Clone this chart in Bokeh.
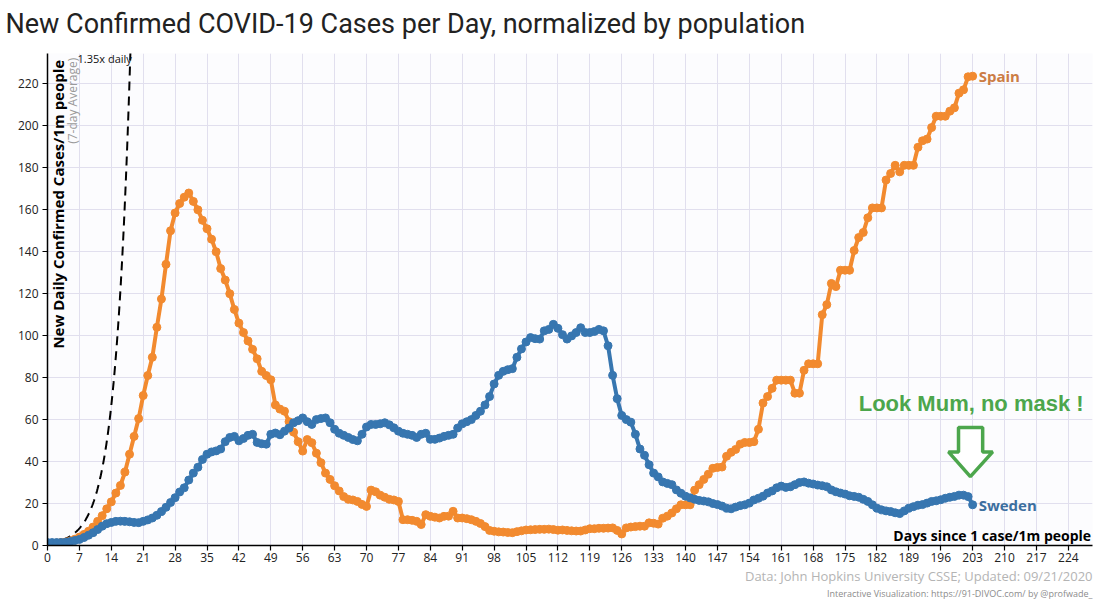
import numpy as np
from math import pi
from bokeh.plotting import figure
from bokeh.models import Label, FixedTicker, PolyAnnotation, Range1d, ColumnDataSource, Title
from bokeh.embed import file_html
from bokeh.resources import INLINE

title_text = "New Confirmed COVID-19 Cases per Day, normalized by population"
y_title = "New Daily Confirmed Cases/1m people"
y_subtitle = "(7-day Average)"
x_title = "Days since 1 case/1m people"
source_text = "Data: John Hopkins University CSSE; Updated: 09/21/2020"
credit_text = "Interactive Visualization: https://91-DIVOC.com/ by @profwade_"
note_text = "Look Mum, no mask !"
guide_text = "1.35x daily"

days = list(range(204))

spain = [
    1.0, 1.1, 1.2, 1.4, 1.7, 2.2, 3.0, 4.0, 5.3, 6.8,
    8.8, 11.5, 14.2, 17.5, 20.8, 25.0, 28.6, 35.0, 43.5, 52.0,
    60.5, 71.5, 81.0, 89.7, 104.0, 117.5, 134.0, 150.0, 158.5, 163.0,
    166.0, 168.0, 164.0, 160.0, 155.0, 151.0, 146.0, 140.0, 132.0, 126.5,
    120.0, 112.5, 106.0, 101.5, 97.5, 93.5, 89.0, 83.0, 81.0, 79.0,
    67.0, 65.0, 64.0, 59.0, 54.0, 49.5, 45.0, 50.5, 49.0, 44.0,
    39.5, 34.5, 31.5, 28.5, 26.0, 23.3, 22.0, 21.7, 21.0, 19.6,
    18.6, 26.4, 25.6, 24.0, 23.0, 22.0, 21.7, 21.0, 12.3, 12.3,
    12.0, 11.5, 10.0, 14.7, 13.9, 13.5, 13.1, 13.9, 14.0, 16.3,
    13.1, 13.1, 12.8, 12.3, 11.5, 10.5, 9.0, 7.2, 6.8, 6.5,
    6.4, 6.2, 6.1, 6.6, 7.0, 7.4, 7.5, 7.6, 7.7, 7.7,
    7.8, 7.6, 7.3, 7.4, 7.2, 7.0, 6.9, 6.9, 7.4, 8.0,
    8.0, 8.2, 8.2, 8.3, 8.4, 7.2, 5.5, 8.4, 8.8, 9.0,
    9.2, 9.2, 10.8, 10.6, 10.2, 13.0, 14.0, 15.5, 17.5, 19.4,
    19.4, 19.4, 26.4, 29.0, 31.5, 34.0, 36.8, 37.2, 37.4, 42.5,
    44.4, 45.8, 48.3, 49.1, 49.1, 49.5, 55.4, 67.9, 71.0, 74.9,
    78.8, 78.8, 78.8, 78.8, 72.6, 72.6, 83.5, 86.6, 86.6, 86.6,
    110.0, 114.8, 124.9, 123.4, 131.2, 131.2, 131.2, 140.6, 146.8, 149.2,
    156.2, 160.9, 160.9, 160.9, 174.2, 177.3, 181.2, 178.1, 181.2, 181.2,
    181.2, 189.8, 192.9, 193.7, 199.2, 204.6, 204.6, 204.6, 207.0, 208.6,
    215.6, 217.2, 223.4, 223.7,
]

sweden = [
    1.4, 1.4, 1.4, 1.4, 1.6, 1.9, 2.4, 2.9, 3.8, 4.9,
    6.1, 7.6, 9.2, 10.4, 11.0, 11.5, 11.6, 11.5, 11.3, 11.0,
    10.9, 11.5, 12.2, 13.1, 14.4, 16.2, 18.2, 20.5, 22.8, 25.5,
    27.5, 31.2, 34.5, 37.3, 41.0, 43.5, 44.6, 45.1, 46.0, 49.5,
    51.5, 52.0, 49.9, 51.0, 52.5, 53.0, 49.1, 48.5, 48.3, 53.0,
    53.6, 52.8, 54.5, 56.0, 58.5, 59.5, 60.8, 59.0, 57.7, 60.0,
    60.5, 60.8, 58.5, 55.4, 53.5, 52.5, 51.5, 50.5, 49.9, 53.0,
    56.5, 57.7, 57.7, 58.0, 58.5, 57.5, 56.1, 54.5, 53.5, 53.0,
    52.5, 51.5, 53.0, 53.5, 50.6, 50.6, 51.2, 52.0, 52.5, 53.0,
    56.0, 58.0, 59.0, 60.0, 62.0, 64.0, 67.0, 71.0, 77.0, 81.1,
    83.0, 83.8, 84.3, 89.7, 93.7, 97.0, 99.1, 98.6, 98.4, 102.3,
    103.0, 105.4, 103.5, 100.5, 98.4, 99.9, 101.5, 103.8, 101.5, 101.5,
    102.0, 103.0, 102.3, 95.2, 81.1, 70.0, 62.0, 60.0, 58.8, 53.0,
    46.0, 43.0, 38.5, 34.5, 32.7, 30.3, 29.6, 29.0, 26.5, 24.9,
    23.5, 22.7, 22.0, 21.5, 21.2, 20.8, 20.0, 19.5, 18.8, 17.8,
    17.5, 18.3, 19.0, 19.4, 20.2, 21.7, 22.5, 23.5, 25.0, 26.0,
    27.5, 28.3, 27.7, 28.0, 29.0, 30.0, 30.3, 29.7, 29.3, 28.8,
    28.5, 28.0, 26.5, 25.6, 25.0, 24.5, 23.7, 23.4, 23.0, 22.0,
    21.0, 19.4, 17.8, 17.0, 16.5, 16.2, 15.6, 15.2, 16.5, 17.8,
    18.5, 19.2, 19.5, 20.2, 21.0, 21.3, 21.8, 22.5, 23.0, 23.4,
    24.0, 24.0, 23.3, 19.4,
]

x_ticks = [0, 7, 14, 21, 28, 35, 42, 49, 56, 63, 70, 77, 84, 91, 98, 105, 112,
           119, 126, 133, 140, 147, 154, 161, 168, 175, 182, 189, 196, 203,
           210, 217, 224]
y_ticks = [0, 20, 40, 60, 80, 100, 120, 140, 160, 180, 200, 220]

guide_rate = 1.35
guide_days = np.arange(0, 18.8, 0.1)
guide_vals = guide_rate ** guide_days

SPAIN_C = "#f28a2f"
SWEDEN_C = "#3776b0"
GREEN = "#4ca64c"
FONT = "Open Sans"

p = figure(width=1099, height=599, output_backend="svg", toolbar_location=None,
           x_range=Range1d(0, 229.3), y_range=Range1d(0, 234.5),
           min_border_left=47, min_border_right=7, min_border_top=53,
           min_border_bottom=20)

# spacer between title and plot frame (closest to the frame)
p.add_layout(Title(text=" ", text_font_size="7px", standoff=0), "above")

p.title.text = title_text
p.title.text_font = "Roboto"
p.title.text_font_size = "27px"
p.title.text_font_style = "normal"
p.title.text_color = "#222222"
p.title.offset = -42

p.background_fill_color = "#fcfcfe"
p.border_fill_color = "white"
p.outline_line_color = None

for ax in (p.xaxis, p.yaxis):
    ax.axis_line_color = "black"
    ax.axis_line_width = 1.5
    ax.major_tick_line_color = "black"
    ax.major_tick_line_width = 1.2
    ax.major_tick_out = 5
    ax.major_tick_in = 0
    ax.minor_tick_line_color = None
    ax.major_label_text_font = FONT
    ax.major_label_text_font_size = "12px"
    ax.major_label_text_color = "#222222"
p.xaxis.ticker = FixedTicker(ticks=x_ticks)
p.yaxis.ticker = FixedTicker(ticks=y_ticks)
p.xaxis.major_label_standoff = 2
p.yaxis.major_label_standoff = 4

p.xgrid.grid_line_color = "#e1dfee"
p.ygrid.grid_line_color = "#e1dfee"

# sources below the axis
src_title = Title(text=source_text, align="right", text_font=FONT,
                  text_font_size="13px", text_font_style="normal",
                  text_line_height=0.9,
                  text_color="#b4b4b4", standoff=0, offset=0)
credit_title = Title(text=credit_text, align="right", text_font=FONT,
                     text_font_size="9px", text_font_style="normal",
                     text_line_height=0.9,
                     text_color="#8c8c8c", standoff=0, offset=0)
p.add_layout(src_title, "below")
p.add_layout(credit_title, "below")

# growth guide line
p.line(guide_days, guide_vals, line_color="black", line_width=2, line_dash="9 6")

src_es = ColumnDataSource(dict(day=days, val=spain))
src_se = ColumnDataSource(dict(day=days, val=sweden))
p.line("day", "val", source=src_es, line_color=SPAIN_C, line_width=4)
p.scatter("day", "val", source=src_es, size=8, fill_color=SPAIN_C, line_color=SPAIN_C)
p.line("day", "val", source=src_se, line_color=SWEDEN_C, line_width=4)
p.scatter("day", "val", source=src_se, size=8, fill_color=SWEDEN_C, line_color=SWEDEN_C)

# series labels
p.add_layout(Label(x=days[-1], y=spain[-1], text="Spain", x_offset=6,
                   text_baseline="middle", text_font=FONT, text_font_style="bold",
                   text_font_size="15px", text_color="#cc7d45"))
p.add_layout(Label(x=days[-1], y=sweden[-1], text="Sweden", x_offset=6,
                   text_baseline="middle", text_font=FONT, text_font_style="bold",
                   text_font_size="15px", text_color="#3c6f9f"))

# axis titles (inside the plot)
p.add_layout(Label(x=2.3, y=231.5, text=y_title, angle=pi / 2, text_align="right",
                   text_baseline="middle", text_font=FONT, text_font_style="bold",
                   text_font_size="15px", text_color="black"))
p.add_layout(Label(x=5.4, y=232.5, text=y_subtitle, angle=pi / 2, text_align="right",
                   text_baseline="middle", text_font=FONT,
                   text_font_size="12px", text_color="#9a9a9a"))
p.add_layout(Label(x=229.0, y=5.0, text=x_title, text_align="right",
                   text_baseline="middle", text_font=FONT, text_font_style="bold",
                   text_font_size="14px", text_color="black"))

# guide label
p.add_layout(Label(x=6.6, y=232.0, text=guide_text, text_baseline="middle",
                   text_font=FONT, text_font_size="11px", text_color="#111111"))

# annotation
p.add_layout(Label(x=178.0, y=67.5, text=note_text, text_baseline="middle",
                   text_font="Liberation Sans", text_font_style="bold",
                   text_font_size="22px", text_color=GREEN))
p.add_layout(PolyAnnotation(
    xs=[199.9, 205.2, 205.2, 207.4, 202.5, 197.7, 199.9],
    ys=[56.3, 56.3, 44.6, 44.6, 32.8, 44.6, 44.6],
    fill_color="white", fill_alpha=1, line_color=GREEN, line_alpha=1,
    line_width=3.5))

open("out.html", "w").write(file_html(p, INLINE))
